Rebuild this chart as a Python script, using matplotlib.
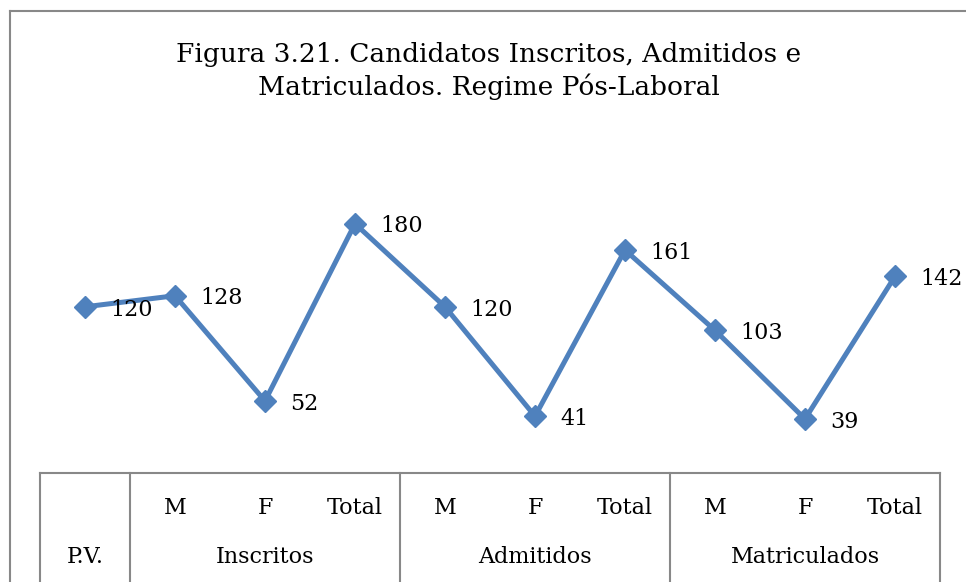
import matplotlib.pyplot as plt

plt.rcParams['font.family'] = ['DejaVu Serif']

categories = ['P.V.', 'M', 'F', 'Total', 'M', 'F', 'Total', 'M', 'F', 'Total']
values = [120, 128, 52, 180, 120, 41, 161, 103, 39, 142]
groups = ['Inscritos', 'Admitidos', 'Matriculados']
title = 'Figura 3.21. Candidatos Inscritos, Admitidos e\nMatriculados. Regime Pós-Laboral'

W, H = 966, 582
fig = plt.figure(figsize=(W / 100, H / 100), dpi=100)

# outer chart border (cropped on right/bottom)
fig.add_artist(plt.Line2D([10 / W, 10 / W], [0, 1 - 11 / H], color='#888888', lw=1.5))
fig.add_artist(plt.Line2D([10 / W, 1], [1 - 11 / H, 1 - 11 / H], color='#888888', lw=1.5))

ax = fig.add_axes([40 / W, (H - 473) / H, 900 / W, 277 / H])
x = list(range(len(values)))
ax.plot(x, values, color='#4F81BD', lw=3.6, marker='D', ms=11, zorder=3)
ax.set_xlim(-0.5, 9.5)
ax.set_ylim(0, 200)
for s in ['top', 'right', 'left']:
    ax.spines[s].set_visible(False)
ax.spines['bottom'].set_color('#888888')
ax.spines['bottom'].set_linewidth(1.5)
ax.set_xticks([])
ax.set_yticks([])

for i, v in enumerate(values):
    ax.annotate(str(v), (i, v), xytext=(18, -2), textcoords='offset points',
                ha='left', va='center', fontsize=16)

tr = ax.get_xaxis_transform()
for xv in [-0.5, 0.5, 3.5, 6.5, 9.5]:
    ax.plot([xv, xv], [0, -0.5], transform=tr, color='#888888', lw=1.5, clip_on=False)

for i, c in enumerate(categories):
    if i == 0:
        ax.text(i, -0.303, c, transform=tr, ha='center', va='center', fontsize=16)
    else:
        ax.text(i, -0.126, c, transform=tr, ha='center', va='center', fontsize=16)
for g, name in enumerate(groups):
    ax.text(2 + 3 * g, -0.303, name, transform=tr, ha='center', va='center', fontsize=16)

fig.text(489 / W, 1 - 71 / H, title, ha='center', va='center', fontsize=19, linespacing=1.3)

fig.savefig('out.png', dpi=100)
